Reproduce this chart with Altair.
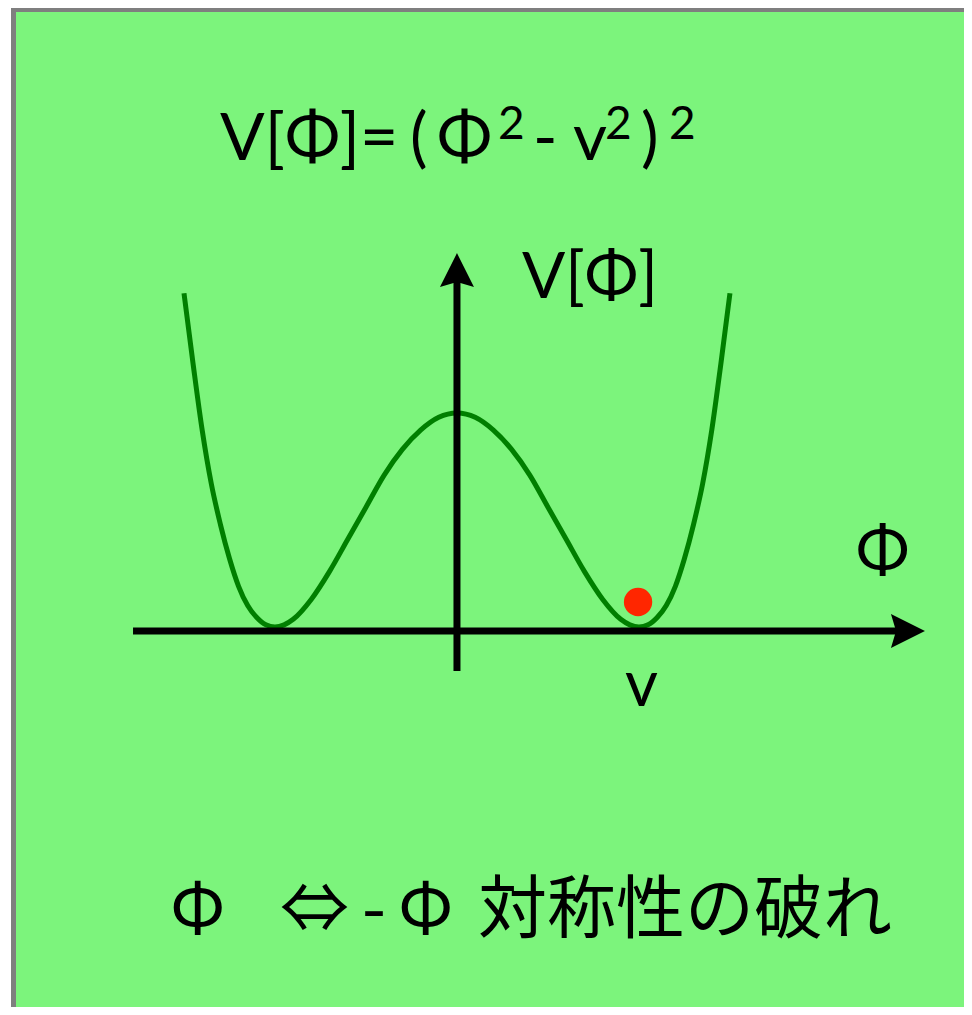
import altair as alt
import pandas as pd

# ---- values (phi in units of v, V in units of v^4) ----
curve_phi = [-1.5, -1.45, -1.4, -1.35, -1.3, -1.25, -1.2, -1.15, -1.1, -1.05, -1.0,
             -0.95, -0.9, -0.8, -0.7, -0.6, -0.5, -0.4, -0.3, -0.2, -0.1, 0.0,
             0.1, 0.2, 0.3, 0.4, 0.5, 0.6, 0.7, 0.8, 0.9, 0.95, 1.0,
             1.05, 1.1, 1.15, 1.2, 1.25, 1.3, 1.35, 1.4, 1.45, 1.5]
curve_V = [1.56, 1.23, 0.92, 0.67, 0.48, 0.32, 0.19, 0.10, 0.044, 0.01, 0.0,
           0.01, 0.036, 0.13, 0.26, 0.41, 0.56, 0.71, 0.83, 0.92, 0.98, 1.0,
           0.98, 0.92, 0.83, 0.71, 0.56, 0.41, 0.26, 0.13, 0.036, 0.01, 0.0,
           0.01, 0.044, 0.10, 0.19, 0.32, 0.48, 0.67, 0.92, 1.23, 1.56]

ball_phi = [0.995]
ball_V = [0.117]

h_axis_phi = [-1.780, 2.434]
h_axis_V = [-0.019]
h_head_phi = [2.478]

v_axis_V = [-0.206, 1.645]
v_head_V = [1.668]

# Latin text pieces: text, left position, baseline, font size
latin_text = ["V[Φ]=", "(", "Φ", "2", "-", "v", "2", ")", "2", "V[Φ]", "Φ", "v"]
latin_phi = [-1.302, -0.258, -0.110, 0.225, 0.418, 0.637, 0.813, 1.011, 1.165, 0.357, 2.192, 0.923]
latin_V = [2.182, 2.182, 2.182, 2.280, 2.182, 2.182, 2.280, 2.182, 2.280, 1.537, 0.252, -0.369]
latin_size = [66, 66, 66, 46, 66, 66, 46, 66, 46, 64, 64, 64]

# bottom line pieces
note_text = ["Φ", "⇔", "-", "Φ", "対称性の破れ"]
note_phi = [-1.577, -0.973, -0.522, -0.324, 0.115]
note_V = [-1.430, -1.430, -1.430, -1.430, -1.430]

W, H = 956, 999
GREEN = "#7CF47C"
xs = alt.Scale(domain=[-2.467, 2.786], nice=False, zero=False)
ys = alt.Scale(domain=[-1.776, 2.893], nice=False, zero=False)

curve = pd.DataFrame({"phi": curve_phi, "V": curve_V, "o": list(range(len(curve_phi)))})
ball = pd.DataFrame({"phi": ball_phi, "V": ball_V})
haxis = pd.DataFrame({"phi": [h_axis_phi[0]], "phi2": [h_axis_phi[1]], "V": h_axis_V})
vaxis = pd.DataFrame({"phi": [0.0], "V": [v_axis_V[0]], "V2": [v_axis_V[1]]})
hhead = pd.DataFrame({"phi": h_head_phi, "V": h_axis_V})
vhead = pd.DataFrame({"phi": [0.0], "V": v_head_V})
latin = pd.DataFrame({"phi": latin_phi, "V": latin_V, "t": latin_text, "s": latin_size})
note = pd.DataFrame({"phi": note_phi, "V": note_V, "t": note_text})

X = lambda: alt.X("phi:Q", scale=xs, axis=None)
Y = lambda: alt.Y("V:Q", scale=ys, axis=None)

border = pd.DataFrame({"k": [0]})
white_strip = alt.Chart(border).mark_rule(color="white", strokeWidth=3, strokeCap="butt").encode(
    x=alt.value(1.5), y=alt.value(0), y2=alt.value(H))
grey_left = alt.Chart(border).mark_rule(color="#7F7F7F", strokeWidth=5, strokeCap="butt").encode(
    x=alt.value(5.5), y=alt.value(0), y2=alt.value(H))
grey_top = alt.Chart(border).mark_rule(color="#7F7F7F", strokeWidth=4, strokeCap="butt").encode(
    x=alt.value(3), x2=alt.value(W), y=alt.value(2))

curve_layer = alt.Chart(curve).mark_line(color="#007F00", strokeWidth=5,
                                         interpolate="monotone").encode(
    x=X(), y=Y(), order="o:Q")
h_line = alt.Chart(haxis).mark_rule(color="black", strokeWidth=7, strokeCap="butt").encode(
    x=X(), x2="phi2:Q", y=Y())
v_line = alt.Chart(vaxis).mark_rule(color="black", strokeWidth=7, strokeCap="butt").encode(
    x=X(), y=Y(), y2="V2:Q")
h_arrow = alt.Chart(hhead).mark_point(shape="M1,0L-1,-1L-0.7,0L-1,1Z", filled=True,
                                      color="black", opacity=1, size=1156).encode(x=X(), y=Y())
v_arrow = alt.Chart(vhead).mark_point(shape="M0,-1L1,1L0,0.7L-1,1Z", filled=True,
                                      color="black", opacity=1, size=1156).encode(x=X(), y=Y())
ball_layer = alt.Chart(ball).mark_circle(color="#FF2600", opacity=1, size=804).encode(x=X(), y=Y())

latin_layer = alt.Chart(latin).mark_text(align="left", baseline="alphabetic", font="Lato",
                                         color="black").encode(
    x=X(), y=Y(), text="t:N", size=alt.Size("s:Q", scale=None, legend=None))
note_layer = alt.Chart(note).mark_text(align="left", baseline="alphabetic",
                                       font="Noto Sans CJK JP", fontSize=69, color="black").encode(
    x=X(), y=Y(), text="t:N")

chart = alt.layer(
    white_strip, grey_left, grey_top, curve_layer, h_line, v_line, h_arrow, v_arrow,
    ball_layer, latin_layer, note_layer
).properties(
    width=W, height=H, autosize=alt.AutoSizeParams(type="none"), padding=0,
    background="white"
).configure_view(fill=GREEN, stroke=None)

chart.save("out.html", embed_options={"renderer": "svg", "actions": False})
